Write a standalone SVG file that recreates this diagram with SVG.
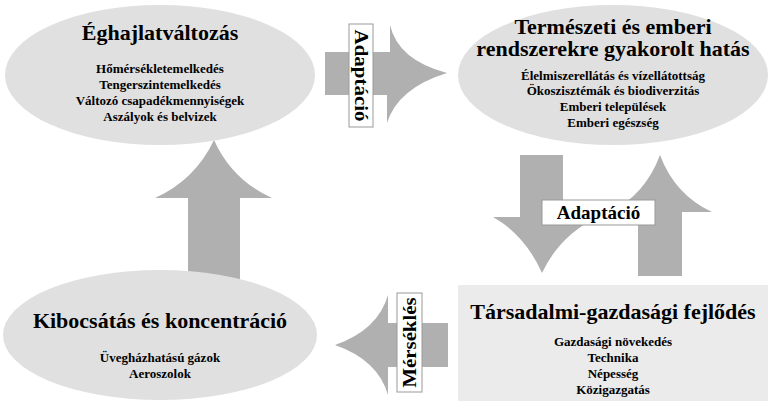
<svg xmlns="http://www.w3.org/2000/svg" width="771" height="409" viewBox="0 0 771 409">
<style>
.n{fill:#e0e0e0}
.a{fill:#b0b0b0}
.lb{fill:#fff;stroke:#999;stroke-width:1}
text{font-family:'Liberation Serif','DejaVu Serif',serif;font-weight:bold;fill:#000;text-anchor:middle}
.t{font-size:22px}
.i{font-size:13px}
.l{font-size:19px}
</style>
<rect width="771" height="409" fill="#fff"/>
<g id="connectors">
<path class="a" d="M325,52 H390 V25 Q398,60 447,73 Q398,88 387,123 V95 H325 Z"/>
<path class="a" d="M188,285 V198 H155 Q195,180 214,140 Q232,180 272,198 H240 V285 Z"/>
<path class="a" d="M520,155 H563 V217 H598 Q560,235 542,273 Q525,235 493,217 H520 Z"/>
<path class="a" d="M638,276 V212 H610 Q645,195 660,155 Q675,195 712,212 H682 V276 Z"/>
<path class="a" d="M448,323 H388 V295 Q378,330 335,345 Q378,360 388,395 V367 H448 Z"/>
<rect class="lb" x="349" y="24" width="24" height="103"/>
<text class="l" transform="translate(361,75.5) rotate(90)" dy="6" textLength="92" lengthAdjust="spacingAndGlyphs">Adaptáció</text>
<rect class="lb" x="542" y="200" width="113" height="25"/>
<text class="l" x="598.5" y="219">Adaptáció</text>
<rect class="lb" x="397" y="293" width="25" height="99"/>
<text class="l" transform="translate(409.5,342.5) rotate(-90)" dy="6" textLength="90" lengthAdjust="spacingAndGlyphs">Mérséklés</text>
</g>
<g id="eghajlat">
<ellipse class="n" cx="160" cy="75" rx="155" ry="70"/>
<text class="t" x="160" y="40">Éghajlatváltozás</text>
<text class="i" x="160" y="73">Hőmérsékletemelkedés</text>
<text class="i" x="160" y="89">Tengerszintemelkedés</text>
<text class="i" x="160" y="105">Változó csapadékmennyiségek</text>
<text class="i" x="160" y="121">Aszályok és belvizek</text>
</g>
<g id="hatas">
<ellipse class="n" cx="613" cy="75" rx="155" ry="70"/>
<text class="t" x="613" y="34">Természeti és emberi</text>
<text class="t" x="613" y="56">rendszerekre gyakorolt hatás</text>
<text class="i" x="613" y="80">Élelmiszerellátás és vízellátottság</text>
<text class="i" x="613" y="95">Ökoszisztémák és biodiverzitás</text>
<text class="i" x="613" y="111">Emberi települések</text>
<text class="i" x="613" y="127">Emberi egészség</text>
</g>
<g id="kibocsatas">
<ellipse class="n" cx="160" cy="335" rx="157" ry="65"/>
<text class="t" x="160" y="328">Kibocsátás és koncentráció</text>
<text class="i" x="160" y="362">Üvegházhatású gázok</text>
<text class="i" x="160" y="378">Aeroszolok</text>
</g>
<g id="tarsadalmi">
<rect x="458" y="285" width="310" height="116" fill="#ebebeb"/>
<text class="t" x="613" y="319">Társadalmi-gazdasági fejlődés</text>
<text class="i" x="613" y="346">Gazdasági növekedés</text>
<text class="i" x="613" y="362">Technika</text>
<text class="i" x="613" y="378">Népesség</text>
<text class="i" x="613" y="394">Közigazgatás</text>
</g>
</svg>
